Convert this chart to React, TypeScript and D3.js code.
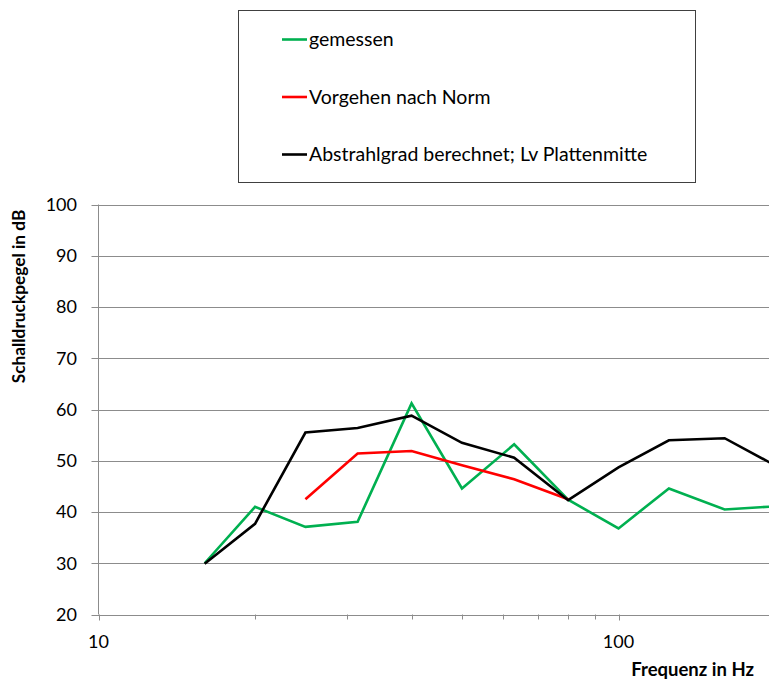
import React from "react";
import * as d3 from "d3";

const freqs = [16, 20, 25, 31.5, 40, 50, 63, 80, 100, 125, 160, 200];
const gemessen = [30.0, 41.0, 37.1, 38.1, 61.2, 44.6, 53.2, 42.4, 36.8, 44.6, 40.5, 41.1];
const norm: (number | null)[] = [null, null, 42.5, 51.4, 51.9, 49.1, 46.4, 42.5, null, null, null, null];
const abstrahl = [29.9, 37.7, 55.5, 56.4, 58.8, 53.5, 50.6, 42.3, 48.7, 54.0, 54.4, 49.1];
const yTicks = [20, 30, 40, 50, 60, 70, 80, 90, 100];
const xMajor = [10, 100];
const xMinor = [20, 30, 40, 50, 60, 70, 80, 90, 200, 300];

const seriesNames = ["gemessen", "Vorgehen nach Norm", "Abstrahlgrad berechnet; Lv Plattenmitte"];
const seriesColors = ["#00B050", "#FF0000", "#000000"];

const W = 769, H = 682;
const left = 98.5, top = 204.5, bottom = 614.5, right = 769;

export default function App() {
  const x = d3.scaleLog().domain([10, 1000]).range([left, left + 1040]);
  const y = d3.scaleLinear().domain([20, 100]).range([bottom, top]);
  const series = [gemessen, norm, abstrahl];
  const line = d3
    .line<[number, number | null]>()
    .defined((d) => d[1] != null)
    .x((d) => x(d[0]))
    .y((d) => y(d[1] as number));
  const font = "Lato, 'Open Sans', sans-serif";
  return (
    <div style={{ position: "absolute", left: 0, top: 0 }}>
      <svg width={W} height={H} style={{ display: "block" }} fontFamily={font}>
        <defs>
          <clipPath id="plotclip">
            <rect x={left} y={top - 10} width={right - left} height={bottom - top + 20} />
          </clipPath>
        </defs>
        <rect x={0} y={0} width={W} height={H} fill="#fff" />
        {yTicks.map((t) => (
          <g key={t}>
            <line x1={left - 7} x2={right} y1={Math.round(y(t)) + 0.5} y2={Math.round(y(t)) + 0.5} stroke="#8c8c8c" strokeWidth={1} />
            <text x={77} y={y(t)} dy="0.35em" textAnchor="end" fontSize={18} fill="#000">
              {t}
            </text>
          </g>
        ))}
        <line x1={left} x2={left} y1={top} y2={bottom} stroke="#8c8c8c" strokeWidth={1} />
        {xMajor.map((t) => (
          <g key={"M" + t}>
            <line x1={Math.round(x(t)) + 0.5} x2={Math.round(x(t)) + 0.5} y1={bottom} y2={bottom + 6} stroke="#8c8c8c" />
            <text x={x(t)} y={642} dy="0.35em" textAnchor="middle" fontSize={18} fill="#000">
              {t}
            </text>
          </g>
        ))}
        {xMinor
          .filter((t) => x(t) <= right)
          .map((t) => (
            <line key={"m" + t} x1={Math.round(x(t)) + 0.5} x2={Math.round(x(t)) + 0.5} y1={bottom} y2={bottom + 5} stroke="#8c8c8c" />
          ))}
        <g clipPath="url(#plotclip)">
          {series.map((s, i) => (
            <path
              key={i}
              d={line(freqs.map((f, j) => [f, s[j]] as [number, number | null])) || ""}
              fill="none"
              stroke={seriesColors[i]}
              strokeWidth={2.6}
              strokeLinejoin="miter"
            />
          ))}
        </g>
        <text
          transform={`translate(25,${296.5}) rotate(-90)`}
          textAnchor="middle"
          fontWeight="bold"
          fontSize={17.3}
          fill="#000"
        >
          Schalldruckpegel in dB
        </text>
        <text x={754} y={669.5} dy="0.35em" textAnchor="end" fontWeight="bold" fontSize={18.5} fill="#000">
          Frequenz in Hz
        </text>
        <rect x={238.5} y={10.5} width={457} height={172} fill="#fff" stroke="#404040" strokeWidth={1} />
        {seriesNames.map((n, i) => {
          const ly = 39.5 + i * 57.5;
          return (
            <g key={n}>
              <line x1={282} x2={307} y1={ly} y2={ly} stroke={seriesColors[i]} strokeWidth={2.6} />
              <text x={309} y={ly} dy="0.35em" fontSize={19.5} fill="#000">
                {n}
              </text>
            </g>
          );
        })}
      </svg>
    </div>
  );
}
